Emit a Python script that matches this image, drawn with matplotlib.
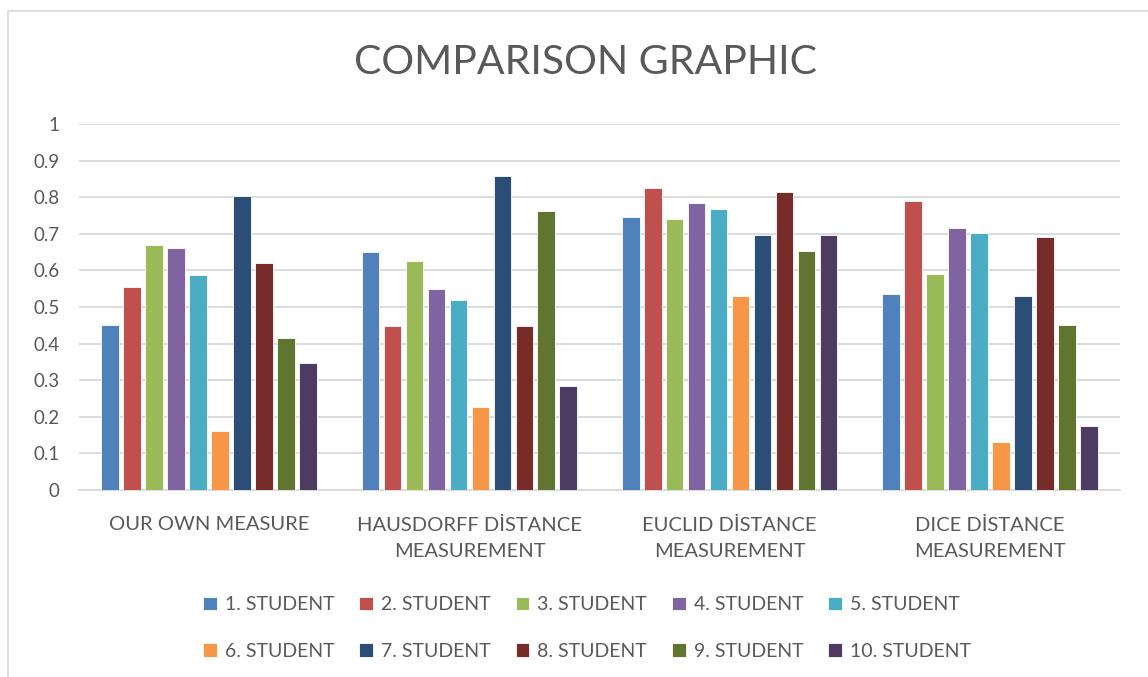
"""Comparison graphic: clustered bar chart of ten students over four measures."""
import numpy as np
from matplotlib import pyplot as plt
from matplotlib.patches import Rectangle

categories = ["OUR OWN MEASURE", "HAUSDORFF DİSTANCE\nMEASUREMENT",
              "EUCLID DİSTANCE\nMEASUREMENT", "DICE DİSTANCE\nMEASUREMENT"]
students = ["%d. STUDENT" % i for i in range(1, 11)]

# one list per student, values over the 4 categories
s1 = [0.45, 0.65, 0.746, 0.535]
s2 = [0.555, 0.449, 0.825, 0.789]
s3 = [0.67, 0.627, 0.741, 0.591]
s4 = [0.66, 0.55, 0.783, 0.715]
s5 = [0.588, 0.52, 0.768, 0.701]
s6 = [0.16, 0.228, 0.531, 0.13]
s7 = [0.802, 0.859, 0.698, 0.529]
s8 = [0.619, 0.449, 0.813, 0.69]
s9 = [0.414, 0.761, 0.654, 0.452]
s10 = [0.346, 0.283, 0.698, 0.175]
series = [s1, s2, s3, s4, s5, s6, s7, s8, s9, s10]

colors = ["#4f81bd", "#c0504d", "#9bbb59", "#8064a2", "#4bacc6",
          "#f79646", "#2c4d75", "#772c2a", "#5f7530", "#4d3b62"]

yticks = [0, 0.1, 0.2, 0.3, 0.4, 0.5, 0.6, 0.7, 0.8, 0.9, 1]
ytick_labels = ["0", "0.1", "0.2", "0.3", "0.4", "0.5", "0.6", "0.7", "0.8", "0.9", "1"]

txt = "#595959"
grid = "#d9d9d9"
plt.rcParams['font.family'] = ['Lato', 'DejaVu Sans']

fig = plt.figure(figsize=(11.48, 6.77), dpi=100)
fig.patches.append(Rectangle((8 / 1148, -0.1), 1.2, 1 - 11 / 677 + 0.1,
                             transform=fig.transFigure, fill=False,
                             edgecolor=grid, linewidth=1.2))

ax = fig.add_axes([79 / 1148, 1 - 490 / 677, (1120 - 79) / 1148, (490 - 124) / 677])

x = np.arange(len(categories))
slot = 0.0845
width = 0.068
for i, vals in enumerate(series):
    ax.bar(x + (i - 4.5) * slot, vals, width, color=colors[i],
           edgecolor="white", linewidth=0.6, label=students[i], zorder=3)

ax.set_xlim(-0.5, 3.5)
ax.set_ylim(0, 1)
ax.set_yticks(yticks)
ax.set_yticklabels(ytick_labels)
ax.set_xticks(x)
ax.set_xticklabels(categories, linespacing=1.7)
ax.tick_params(axis="y", length=0, pad=14, labelsize=13.5, labelcolor=txt)
ax.tick_params(axis="x", length=0, pad=19, labelsize=14.5, labelcolor=txt)
ax.grid(axis="y", color=grid, linewidth=1.3, zorder=0)
for side in ["top", "right", "left"]:
    ax.spines[side].set_visible(False)
ax.spines["bottom"].set_color(grid)
ax.spines["bottom"].set_linewidth(1.3)

fig.text(585 / 1148, 1 - 62 / 677, "COMPARISON GRAPHIC", ha="center",
         va="center", fontsize=29.5, color=txt)

handles, labels = ax.get_legend_handles_labels()
order = [0, 5, 1, 6, 2, 7, 3, 8, 4, 9]
leg = fig.legend([handles[k] for k in order], [labels[k] for k in order],
                 ncol=5, loc="center", bbox_to_anchor=(587 / 1148, 1 - 628 / 677),
                 frameon=False, fontsize=14, handlelength=0.7, handleheight=0.7,
                 handletextpad=0.4, columnspacing=1.3, labelspacing=1.5)
for t in leg.get_texts():
    t.set_color(txt)

fig.savefig("out.png", dpi=100)
